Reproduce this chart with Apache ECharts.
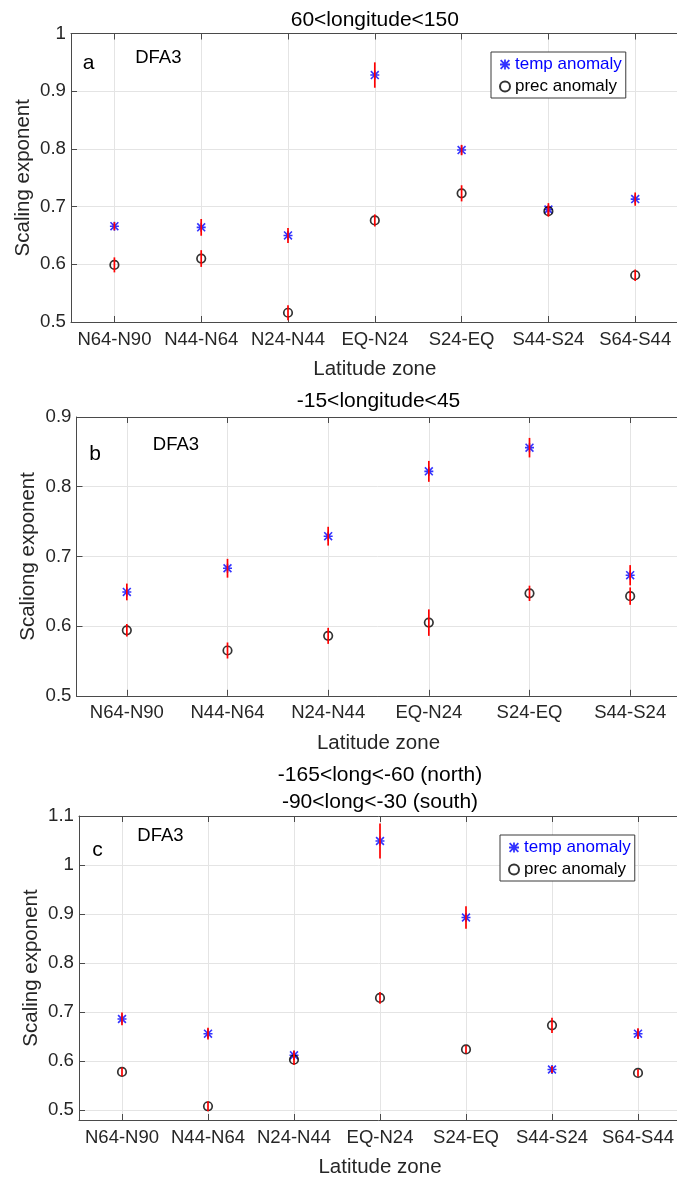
<!DOCTYPE html>
<html>
<head>
<meta charset="utf-8">
<script src="https://cdn.jsdelivr.net/npm/echarts@6/dist/echarts.min.js"></script>
<style>
html, body { margin: 0; padding: 0; background: #fff; }
#chart { width: 677px; height: 1179px; }
</style>
</head>
<body>
<div id="chart"></div>
<script>
// ---- Panel a: 60<longitude<150 ----
const zonesA = ['N64-N90', 'N44-N64', 'N24-N44', 'EQ-N24', 'S24-EQ', 'S44-S24', 'S64-S44'];
const tempA = [0.666, 0.664, 0.650, 0.928, 0.798, 0.695, 0.713];
const tempErrA = [0.007, 0.0145, 0.013, 0.022, 0.009, 0.011, 0.0115];
const precA = [0.599, 0.610, 0.516, 0.676, 0.723, 0.692, 0.581];
const precErrA = [0.013, 0.0145, 0.013, 0.0105, 0.014, 0.0095, 0.010];
const yTicksA = [0.5, 0.6, 0.7, 0.8, 0.9, 1];

// ---- Panel b: -15<longitude<45 ----
const zonesB = ['N64-N90', 'N44-N64', 'N24-N44', 'EQ-N24', 'S24-EQ', 'S44-S24'];
const tempB = [0.649, 0.683, 0.729, 0.822, 0.856, 0.673];
const tempErrB = [0.012, 0.0135, 0.0135, 0.015, 0.014, 0.0145];
const precB = [0.594, 0.565, 0.586, 0.605, 0.647, 0.643];
const precErrB = [0.009, 0.0115, 0.0115, 0.019, 0.011, 0.0125];
const yTicksB = [0.5, 0.6, 0.7, 0.8, 0.9];

// ---- Panel c: Americas (north / south longitude bands) ----
const zonesC = ['N64-N90', 'N44-N64', 'N24-N44', 'EQ-N24', 'S24-EQ', 'S44-S24', 'S64-S44'];
const tempC = [0.686, 0.656, 0.612, 1.049, 0.893, 0.583, 0.656];
const tempErrC = [0.013, 0.012, 0.0095, 0.0355, 0.023, 0.007, 0.011];
const precC = [0.578, 0.508, 0.603, 0.729, 0.624, 0.673, 0.576];
const precErrC = [0.009, 0.010, 0.011, 0.012, 0.008, 0.0155, 0.0075];
const yTicksC = [0.5, 0.6, 0.7, 0.8, 0.9, 1, 1.1];

const FONT = "'Liberation Sans', Arial, Helvetica, sans-serif";
const AXIS_COLOR = '#4a4a4a';
const TEXT_COLOR = '#262626';
const GRID_COLOR = '#e4e4e4';
// MATLAB-style '*' marker: four crossing bars
const ASTERISK = 'path://M4.1 0h1.8v10h-1.8z M0 4.1h10v1.8h-10z M1.27 0L10 8.73L8.73 10L0 1.27z M8.73 0L10 1.27L1.27 10L0 8.73z';

const panels = [
  { zones: zonesA, temp: tempA, tempErr: tempErrA, prec: precA, precErr: precErrA,
    yMin: 0.5, yMax: 1.0, yTicks: yTicksA, yName: 'Scaling exponent',
    box: { left: 71, top: 33.5, width: 607.6, height: 288.5 },
    titles: ['60<longitude<150'], titleY: [20],
    letter: 'a', letterPos: [88.5, 63], dfaPos: [158.3, 58],
    legendPos: [491, 52] },
  { zones: zonesB, temp: tempB, tempErr: tempErrB, prec: precB, precErr: precErrB,
    yMin: 0.5, yMax: 0.9, yTicks: yTicksB, yName: 'Scaliong exponent',
    box: { left: 76.5, top: 417, width: 604, height: 278.8 },
    titles: ['-15<longitude<45'], titleY: [401],
    letter: 'b', letterPos: [95, 454], dfaPos: [176, 445],
    legendPos: null },
  { zones: zonesC, temp: tempC, tempErr: tempErrC, prec: precC, precErr: precErrC,
    yMin: 0.48, yMax: 1.1, yTicks: yTicksC, yName: 'Scaling exponent',
    box: { left: 79, top: 816, width: 602, height: 304 },
    titles: ['-165<long<-60 (north)', '-90<long<-30 (south)'], titleY: [775, 802],
    letter: 'c', letterPos: [97.4, 850.5], dfaPos: [160.4, 836],
    legendPos: [500, 835] }
];

const grids = [], xAxes = [], yAxes = [], series = [], legends = [], graphics = [];

// vertical red error bar from value - err to value + err
function errorBarRender(params, api) {
  const x = api.value(0), v = api.value(1), e = api.value(2);
  const lo = api.coord([x, v - e]);
  const hi = api.coord([x, v + e]);
  return {
    type: 'line',
    shape: { x1: lo[0], y1: lo[1], x2: hi[0], y2: hi[1] },
    style: { stroke: '#ff0000', lineWidth: 1.7 }
  };
}

panels.forEach((p, i) => {
  const n = p.zones.length;
  const cats = p.zones.map((_, k) => k + 1);
  grids.push(Object.assign({ outerBoundsMode: 'none', containLabel: false }, p.box));

  // bottom axis with zone labels
  xAxes.push({
    gridIndex: i, type: 'value', position: 'bottom', min: 0.5, max: n + 0.5,
    name: 'Latitude zone', nameLocation: 'middle', nameGap: 37, nameMoveOverlap: false,
    nameTextStyle: { fontSize: 20.5, color: TEXT_COLOR, fontFamily: FONT },
    axisLine: { show: true, onZero: false, lineStyle: { color: AXIS_COLOR, width: 1 } },
    axisTick: { show: true, inside: true, length: 6, customValues: cats, lineStyle: { color: AXIS_COLOR } },
    axisLabel: { customValues: cats, formatter: v => p.zones[Math.round(v) - 1],
                 fontSize: 18.5, color: TEXT_COLOR, fontFamily: FONT, margin: 8 },
    splitLine: { show: true, lineStyle: { color: GRID_COLOR, width: 1 } }
  });
  // top edge of the box with inward ticks
  xAxes.push({
    gridIndex: i, type: 'value', position: 'top', min: 0.5, max: n + 0.5,
    axisLine: { show: true, onZero: false, lineStyle: { color: AXIS_COLOR, width: 1 } },
    axisTick: { show: true, inside: true, length: 6, customValues: cats, lineStyle: { color: AXIS_COLOR } },
    axisLabel: { show: false },
    splitLine: { show: false }
  });

  yAxes.push({
    gridIndex: i, type: 'value', min: p.yMin, max: p.yMax,
    name: p.yName, nameLocation: 'middle', nameGap: 37.5, nameMoveOverlap: false,
    nameTextStyle: { fontSize: 20.5, color: TEXT_COLOR, fontFamily: FONT },
    axisLine: { show: true, onZero: false, lineStyle: { color: AXIS_COLOR, width: 1 } },
    axisTick: { show: true, inside: true, length: 6, customValues: p.yTicks, lineStyle: { color: AXIS_COLOR } },
    axisLabel: { customValues: p.yTicks, fontSize: 18.7, color: TEXT_COLOR, fontFamily: FONT, margin: 5 },
    splitLine: { show: true, lineStyle: { color: GRID_COLOR, width: 1 } }
  });

  const xb = 2 * i;
  series.push({
    name: 'temp anomaly', type: 'scatter', xAxisIndex: xb, yAxisIndex: i,
    symbol: ASTERISK, symbolSize: 9, itemStyle: { color: '#0000ff' }, z: 3,
    data: p.temp.map((v, k) => [k + 1, v])
  });
  series.push({
    name: 'prec anomaly', type: 'scatter', xAxisIndex: xb, yAxisIndex: i,
    symbol: 'circle', symbolSize: 8.5,
    itemStyle: { color: 'rgba(0,0,0,0)', borderColor: '#000', borderWidth: 1.7 }, z: 3,
    data: p.prec.map((v, k) => [k + 1, v])
  });
  series.push({
    name: 'temp error', type: 'custom', xAxisIndex: xb, yAxisIndex: i, z: 4,
    renderItem: errorBarRender, encode: { x: 0, y: 1 },
    data: p.temp.map((v, k) => [k + 1, v, p.tempErr[k]])
  });
  series.push({
    name: 'prec error', type: 'custom', xAxisIndex: xb, yAxisIndex: i, z: 4,
    renderItem: errorBarRender, encode: { x: 0, y: 1 },
    data: p.prec.map((v, k) => [k + 1, v, p.precErr[k]])
  });

  if (p.legendPos) {
    legends.push({
      left: p.legendPos[0], top: p.legendPos[1], orient: 'vertical',
      data: [
        { name: 'temp anomaly', textStyle: { color: '#0000ff' } },
        { name: 'prec anomaly', textStyle: { color: '#000000' } }
      ],
      backgroundColor: '#ffffff', borderColor: '#3a3a3a', borderWidth: 1,
      padding: [4, 4, 3, 8], itemGap: 5, itemWidth: 10, itemHeight: 10,
      selectedMode: false,
      textStyle: { fontSize: 17, fontFamily: FONT }
    });
  }

  const cx = p.box.left + p.box.width / 2;
  p.titles.forEach((t, k) => {
    graphics.push({ type: 'text', x: cx, y: p.titleY[k], z: 10,
      style: { text: t, fontSize: 21, fontFamily: FONT, fill: '#000', align: 'center', verticalAlign: 'middle' } });
  });
  graphics.push({ type: 'text', x: p.letterPos[0], y: p.letterPos[1], z: 10,
    style: { text: p.letter, fontSize: 21, fontFamily: FONT, fill: '#000', align: 'center', verticalAlign: 'middle' } });
  graphics.push({ type: 'text', x: p.dfaPos[0], y: p.dfaPos[1], z: 10,
    style: { text: 'DFA3', fontSize: 18.5, fontFamily: FONT, fill: '#000', align: 'center', verticalAlign: 'middle' } });
});

const chart = echarts.init(document.getElementById('chart'), null, { renderer: 'canvas' });
chart.setOption({
  animation: false,
  backgroundColor: '#ffffff',
  textStyle: { fontFamily: FONT },
  grid: grids,
  xAxis: xAxes,
  yAxis: yAxes,
  legend: legends,
  series: series,
  graphic: graphics
});
</script>
</body>
</html>
